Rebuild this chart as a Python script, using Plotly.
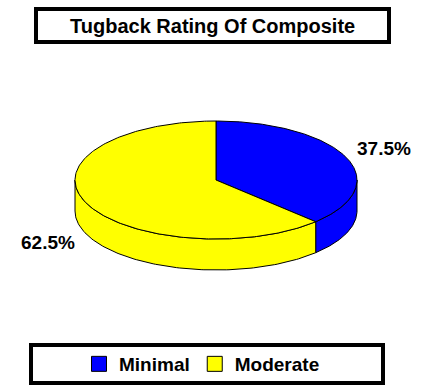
import numpy as np
import plotly.graph_objects as go

categories = ["Minimal", "Moderate"]
values = [37.5, 62.5]
colors = ["#0000FF", "#FFFF00"]
title_text = "Tugback Rating Of Composite"

W, H = 428, 391
cx, cy, rx, ry, depth = 216, 180, 141, 59, 31
FONT = "Liberation Sans, Arial, sans-serif"

fig = go.Figure()

total = sum(values)
# angles in degrees, start at 12 o'clock going clockwise
starts, ends = [], []
a = 90.0
for v in values:
    span = 360.0 * v / total
    starts.append(a)
    ends.append(a - span)
    a -= span


def ell(angles, dy=0.0):
    t = np.radians(angles)
    return cx + rx * np.cos(t), cy - ry * np.sin(t) + dy

# side faces (front half: angles between -180 and 0)
for i, (s, e) in enumerate(zip(starts, ends)):
    lo, hi = e, s
    segs = []
    for off in (0, -360, 360):
        a0 = max(lo + off, -180)
        a1 = min(hi + off, 0)
        if a1 > a0:
            segs.append((a0, a1))
    for a0, a1 in segs:
        ang = np.linspace(a1, a0, 120)
        x1, y1 = ell(ang)
        x2, y2 = ell(ang[::-1], depth)
        xs = np.concatenate([x1, x2, x1[:1]])
        ys = np.concatenate([y1, y2, y1[:1]])
        fig.add_trace(go.Scatter(x=xs, y=ys, mode="lines", fill="toself",
                                 fillcolor=colors[i], line=dict(color="black", width=1),
                                 showlegend=False, hoverinfo="skip"))

# top faces
for i, (s, e) in enumerate(zip(starts, ends)):
    ang = np.linspace(s, e, 240)
    x1, y1 = ell(ang)
    xs = np.concatenate([[cx], x1, [cx]])
    ys = np.concatenate([[cy], y1, [cy]])
    fig.add_trace(go.Scatter(x=xs, y=ys, mode="lines", fill="toself",
                             fillcolor=colors[i], line=dict(color="black", width=1),
                             showlegend=False, hoverinfo="skip"))

# legend entries
for i, c in enumerate(categories):
    fig.add_trace(go.Scatter(x=[None], y=[None], mode="markers", name=f"<b>{c}</b>",
                             marker=dict(symbol="square", size=15, color=colors[i],
                                         line=dict(color="black", width=1))))

# percentage labels
for i, (s, e) in enumerate(zip(starts, ends)):
    mid = np.radians((s + e) / 2)
    side = np.sign(np.cos(mid))
    lx = cx + rx * side - 2 * side
    ly = cy - 1.4 * ry * np.sin(mid) + (depth if np.sin(mid) < 0 else 0)
    fig.add_annotation(x=lx, y=ly, text=f"<b>{values[i]:.1f}%</b>", showarrow=False,
                       xanchor="left" if side > 0 else "right", yanchor="middle",
                       font=dict(family=FONT, size=19, color="black"))

# title box and text
fig.add_shape(type="rect", x0=36, x1=389, y0=9, y1=42, line=dict(color="black", width=4),
              fillcolor="white", layer="below")
fig.add_annotation(x=212, y=25.5, text=f"<b>{title_text}</b>", showarrow=False,
                   xanchor="center", yanchor="middle",
                   font=dict(family=FONT, size=20, color="black"))
# legend box
fig.add_shape(type="rect", x0=31, x1=383, y0=345, y1=383, line=dict(color="black", width=4),
              fillcolor="white", layer="below")

fig.update_layout(
    width=W, height=H, margin=dict(l=0, r=0, t=0, b=0),
    paper_bgcolor="white", plot_bgcolor="white",
    xaxis=dict(range=[0, W], visible=False, fixedrange=True),
    yaxis=dict(range=[H, 0], visible=False, fixedrange=True),
    showlegend=True,
    legend=dict(orientation="h", x=79 / W, xanchor="left", y=1 - 364 / H, yanchor="middle",
                bgcolor="rgba(0,0,0,0)", borderwidth=0,
                font=dict(family=FONT, size=19, color="black"), itemclick=False),
)

fig.write_html("out.html")
